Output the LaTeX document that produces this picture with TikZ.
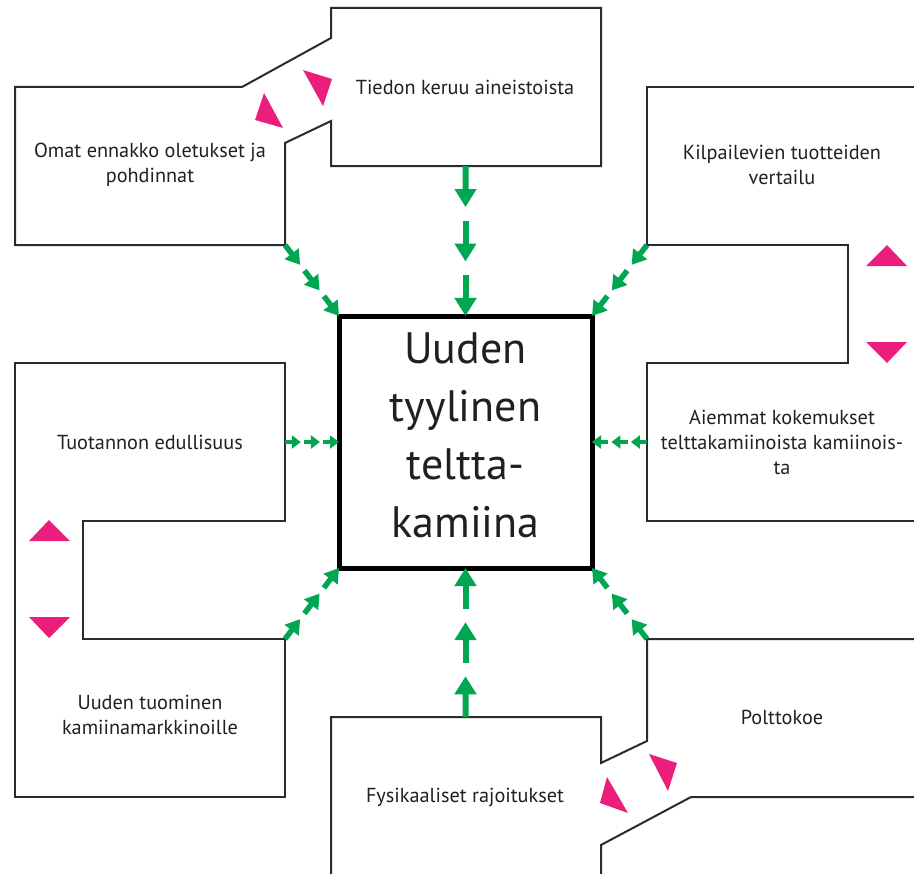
\documentclass[tikz,border=0pt]{standalone}
\usepackage{fontspec}
\setmainfont{PT Sans}
\usetikzlibrary{arrows.meta,calc}
\definecolor{gr}{HTML}{00A651}
\definecolor{pk}{HTML}{EC1E7C}
\definecolor{ol}{HTML}{2B2B2B}
\definecolor{tx}{HTML}{231F20}
\tikzset{
  outline/.style={draw=ol, line width=1.5pt, line join=miter},
  pinktri/.style={fill=pk, draw=none},
  lbl/.style={text=tx, font=\fontsize{15.2pt}{18.75pt}\selectfont, align=center, inner sep=0pt},
  bigbox/.style={draw=black, line width=3.75pt, outer sep=0pt, minimum width=189.75pt, minimum height=189pt},
  biglbl/.style={text=tx, font=\fontsize{33pt}{43.5pt}\selectfont, align=center, inner sep=0pt},
  gline/.style={draw=gr},
}
\newcommand{\gchain}[6]{%
  \pgfmathsetmacro{\segf}{(1-2*#6)/3}%
  \pgfmathsetlengthmacro{\ghw}{#3*0.75pt}%
  \pgfmathsetlengthmacro{\ghl}{#4*0.75pt}%
  \pgfmathsetlengthmacro{\glw}{#5*0.75pt}%
  \foreach \i in {0,1,2}{%
    \pgfmathsetmacro{\sa}{\i*(\segf+#6)}%
    \pgfmathsetmacro{\sb}{\sa+\segf}%
    \draw[gline, line width=\glw, -{Triangle[width=\ghw, length=\ghl]}] ($(#1)!\sa!(#2)$) -- ($(#1)!\sb!(#2)$);
  }%
}
\begin{document}
\begin{tikzpicture}[x=0.75pt,y=-0.75pt]
\useasboundingbox (0,0) rectangle (914,874);

% outlines
\draw[outline] (331,8) -- (601,8) -- (601,166) -- (331,166) -- (331,121) -- (285,143) -- (285,245) -- (15,245) -- (15,87) -- (242,87) -- (331,38) -- cycle;
\draw[outline] (914,87) -- (647,87) -- (647,245) -- (848,245) -- (848,363) -- (647,363) -- (647,521) -- (914,521);
\draw[outline] (15,363) -- (285,363) -- (285,521) -- (83,521) -- (83,639) -- (285,639) -- (285,797) -- (15,797) -- cycle;
\draw[outline] (331,874) -- (331,717) -- (601,717) -- (601,763) -- (647,741) -- (647,639) -- (914,639);
\draw[outline] (914,797) -- (691,797) -- (601,845) -- (601,874);

% pink triangles
\fill[pinktri] (303,70) -- (332,79) -- (323,106) -- cycle;
\fill[pinktri] (255,120) -- (264,93) -- (283,128) -- cycle;
\fill[pinktri] (866,266) -- (907,266) -- (887,245) -- cycle;
\fill[pinktri] (866,342) -- (907,342) -- (887,363) -- cycle;
\fill[pinktri] (29,541) -- (70,541) -- (49,520) -- cycle;
\fill[pinktri] (29,617) -- (70,617) -- (49,638) -- cycle;
\fill[pinktri] (649,754) -- (677,763) -- (668,791) -- cycle;
\fill[pinktri] (607,777) -- (600,803) -- (628,813) -- cycle;

% centre
\node[bigbox] (cbox) at (465.5,442) {};
\node[biglbl] (ctext) at (465.5,435) {Uuden\\tyylinen\\teltta-\\kamiina};

% labels
\node[lbl] (tiedon) at (465,87) {Tiedon keruu aineistoista};
\node[lbl] (omat) at (150,165) {Omat ennakko oletukset ja\\pohdinnat};
\node[lbl] (kilp) at (782,165) {Kilpailevien tuotteiden\\vertailu};
\node[lbl] (aiem) at (782,442) {Aiemmat kokemukset\\telttakamiinoista kamiinois-\\ta};
\node[lbl] (tuot) at (150,442) {Tuotannon edullisuus};
\node[lbl] (uuden) at (150,715) {Uuden tuominen\\kamiinamarkkinoille};
\node[lbl] (poltto) at (782,717) {Polttokoe};
\node[lbl] (fys) at (465,797) {Fysikaaliset rajoitukset};

% connector ends
\coordinate (omatBR) at (285,245);
\coordinate (tiedB) at (465.5,166);
\coordinate (kilpBL) at (647,245);
\coordinate (tuotR) at (285,442);
\coordinate (aiemL) at (647,442);
\coordinate (uudTR) at (285,639);
\coordinate (fysT) at (465.5,717);
\coordinate (poltTL) at (647,639);

% green dashed arrows
\gchain{tiedB}{cbox.north}{21}{18}{6}{0.09}
\gchain{fysT}{cbox.south}{21}{18}{6}{0.09}
\gchain{omatBR}{cbox.north west}{17}{14}{5.5}{0.08}
\gchain{kilpBL}{cbox.north east}{17}{14}{5.5}{0.08}
\gchain{uudTR}{cbox.south west}{17}{14}{5.5}{0.08}
\gchain{poltTL}{cbox.south east}{17}{14}{5.5}{0.08}
\gchain{tuotR}{cbox.west}{13}{9}{4.5}{0.06}
\gchain{aiemL}{cbox.east}{13}{9}{4.5}{0.06}
\end{tikzpicture}
\end{document}
